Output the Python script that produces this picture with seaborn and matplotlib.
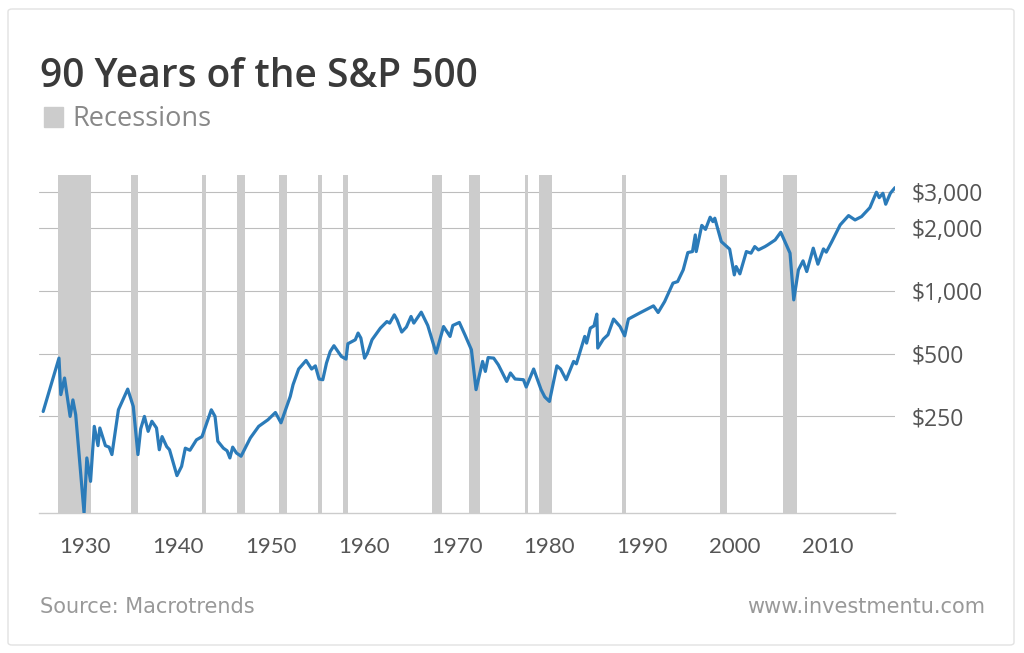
import matplotlib
matplotlib.use("Agg")
import matplotlib.pyplot as plt
from matplotlib.patches import Rectangle, FancyBboxPatch
import seaborn as sns

# S&P 500 (inflation adjusted)
years = [1925.5, 1927.2, 1927.4, 1927.8, 1928.4, 1928.7, 1929.0, 1929.9, 1930.2, 1930.6,
         1931.0, 1931.4, 1931.6, 1932.2, 1932.6, 1932.9, 1933.6, 1934.6, 1935.2, 1935.7,
         1936.0, 1936.4, 1936.8, 1937.2, 1937.7, 1938.0, 1938.3, 1938.8, 1939.1, 1939.9,
         1940.4, 1940.8, 1941.3, 1942.0, 1942.6, 1943.6, 1944.0, 1944.3, 1944.9, 1945.3,
         1945.6, 1945.9, 1946.3, 1946.8, 1947.8, 1948.7, 1949.7, 1950.5, 1951.1, 1952.1,
         1952.4, 1953.0, 1953.8, 1954.4, 1954.8, 1955.2, 1955.6, 1956.0, 1956.4, 1956.8,
         1957.6, 1958.1, 1958.3, 1959.1, 1959.4, 1959.7, 1960.1, 1960.4, 1960.9, 1961.8,
         1962.5, 1962.8, 1963.3, 1963.6, 1964.1, 1964.6, 1965.1, 1965.4, 1966.2, 1966.9,
         1967.8, 1968.6, 1969.3, 1969.6, 1970.3, 1970.9, 1971.6, 1972.1, 1972.8, 1973.1,
         1973.4, 1974.0, 1974.5, 1975.4, 1975.8, 1976.3, 1977.2, 1977.5, 1978.3, 1979.1,
         1979.5, 1980.0, 1980.8, 1981.2, 1981.8, 1982.6, 1982.9, 1983.8, 1984.0, 1984.4,
         1984.8, 1985.1, 1985.2, 1985.8, 1986.3, 1986.9, 1987.6, 1988.1, 1988.5, 1989.7,
         1991.2, 1991.7, 1992.4, 1993.3, 1993.8, 1994.4, 1994.9, 1995.4, 1995.7, 1995.8,
         1996.4, 1996.8, 1997.3, 1997.6, 1997.8, 1998.5, 1999.4, 1999.9, 2000.1, 2000.5,
         2001.2, 2001.7, 2002.1, 2002.5, 2003.2, 2003.5, 2004.3, 2004.9, 2005.9, 2006.3,
         2006.8, 2007.3, 2007.7, 2008.4, 2008.9, 2009.5, 2009.8, 2010.4, 2011.3, 2012.2,
         2012.9, 2013.6, 2014.5, 2015.2, 2015.5, 2015.9, 2016.2, 2016.7, 2017.2]
prices = [264, 476, 318, 382, 250, 300, 255, 86, 158, 122,
          224, 181, 220, 181, 178, 164, 269, 338, 279, 164,
          218, 250, 212, 237, 220, 173, 200, 179, 173, 130,
          144, 176, 172, 193, 200, 269, 250, 190, 176, 171,
          158, 178, 167, 161, 197, 224, 241, 261, 233, 312,
          355, 422, 464, 422, 437, 378, 375, 451, 512, 546,
          485, 471, 558, 583, 628, 594, 476, 503, 583, 663,
          713, 701, 768, 727, 635, 671, 754, 701, 791, 683,
          503, 675, 605, 683, 706, 616, 522, 336, 459, 411,
          479, 476, 442, 368, 404, 378, 375, 346, 422, 336,
          310, 295, 437, 422, 375, 459, 447, 605, 562, 663,
          680, 774, 532, 587, 616, 733, 675, 609, 733, 783,
          848, 788, 889, 1090, 1109, 1262, 1528, 1545, 1857, 1545,
          2063, 1974, 2258, 2151, 2233, 1725, 1587, 1194, 1309, 1208,
          1545, 1518, 1632, 1574, 1632, 1663, 1757, 1913, 1518, 906,
          1262, 1394, 1239, 1604, 1344, 1591, 1535, 1725, 2075, 2299,
          2191, 2274, 2511, 2976, 2803, 2943, 2607, 2943, 3130]

# shaded recession periods (start, end)
rec_start = [1927.1, 1935.0, 1942.6, 1946.4, 1950.9, 1955.1, 1957.8, 1967.4,
             1971.3, 1977.4, 1978.9, 1987.8, 1998.4, 2005.1]
rec_end = [1930.6, 1935.7, 1943.0, 1947.2, 1951.7, 1955.5, 1958.3, 1968.4,
           1972.5, 1977.7, 1980.3, 1988.2, 1999.1, 2006.6]

decades = [1930, 1940, 1950, 1960, 1970, 1980, 1990, 2000, 2010]
price_ticks = [250, 500, 1000, 2000, 3000]
price_labels = ["$250", "$500", "$1,000", "$2,000", "$3,000"]

sns.set_theme(style="white")
plt.rcParams["font.family"] = ["Open Sans", "DejaVu Sans"]

fig = plt.figure(figsize=(10.24, 6.53), dpi=100)
ax = fig.add_axes([39 / 1024, 1 - 513 / 653, (895 - 39) / 1024, (513 - 175) / 653])

# card border
fig.patches.append(FancyBboxPatch((8 / 1024, 8 / 653), 1006 / 1024, 636 / 653,
                                  boxstyle="round,pad=0,rounding_size=0.004",
                                  transform=fig.transFigure, fill=False,
                                  edgecolor="#e2e2e2", linewidth=1))

for s, e in zip(rec_start, rec_end):
    ax.axvspan(s, e, color="#cccccc", lw=0, zorder=1)

for t in price_ticks:
    ax.axhline(t, color="#bdbdbd", lw=0.8, zorder=0)

sns.lineplot(x=years, y=prices, ax=ax, color="#2b7bb9", lw=2.3,
             sort=False, estimator=None, zorder=3)

ax.set_yscale("log")
ax.set_ylim(86, 3600)
ax.set_xlim(1925.05, 2017.2)
ax.set_yticks(price_ticks)
ax.set_yticklabels(price_labels)
ax.minorticks_off()
ax.yaxis.tick_right()
ax.set_xticks(decades)
ax.set_xticklabels([str(d) for d in decades])
ax.tick_params(axis="y", length=0, pad=12, labelsize=16.5, labelcolor="#555555")
ax.tick_params(axis="x", length=0, pad=17, labelsize=16, labelcolor="#555555")
for lab in ax.get_xticklabels():
    lab.set_family(["Liberation Sans Narrow", "Lato", "DejaVu Sans"])
ax.set_xlabel("")
ax.set_ylabel("")
for side in ["top", "left", "right"]:
    ax.spines[side].set_visible(False)
ax.spines["bottom"].set_color("#cccccc")
ax.spines["bottom"].set_linewidth(1)

fig.text(40 / 1024, 1 - 87 / 653, "90 Years of the S&P 500", fontsize=28,
         color="#3a3a3a", va="baseline", ha="left", fontweight="semibold")
fig.patches.append(Rectangle((44 / 1024, 1 - 127 / 653), 19 / 1024, 20 / 653,
                             transform=fig.transFigure, color="#cccccc"))
fig.text(72 / 1024, 1 - 126 / 653, "Recessions", fontsize=19.5, color="#888888",
         va="baseline", ha="left")
fig.text(40 / 1024, 1 - 607 / 653, "Source: Macrotrends", fontsize=15,
         color="#999999", va="center", ha="left", family="DejaVu Sans")
fig.text(985 / 1024, 1 - 607 / 653, "www.investmentu.com", fontsize=15,
         color="#999999", va="center", ha="right", family="DejaVu Sans")

fig.savefig("out.png", dpi=100, facecolor="white")
